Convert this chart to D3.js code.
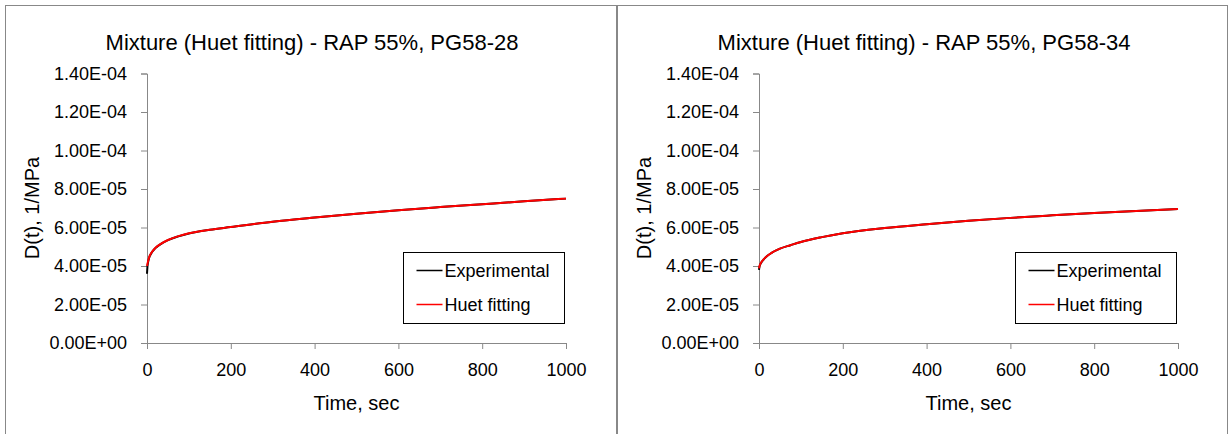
<!DOCTYPE html>
<html>
<head>
<meta charset="utf-8">
<script src="https://cdn.jsdelivr.net/npm/d3@7"></script>
<style>
  body { margin: 0; background: #fff; }
  text { font-family: "Liberation Sans", Arial, sans-serif; fill: #000; }
</style>
</head>
<body>
<div id="chart"></div>
<script>
// creep compliance
var times = [0, 1, 2, 5, 10, 20, 30, 50, 75, 100, 150, 200, 300, 400, 500, 600, 700, 800, 900, 1000];

var exp28 = [3.60e-5, 3.95e-5, 4.12e-5, 4.42e-5, 4.65e-5, 4.93e-5, 5.10e-5, 5.34e-5, 5.54e-5, 5.69e-5,
             5.88e-5, 6.02e-5, 6.30e-5, 6.52e-5, 6.72e-5, 6.90e-5, 7.06e-5, 7.21e-5, 7.36e-5, 7.50e-5];
var huet28 = [4.00e-5, 4.10e-5, 4.20e-5, 4.45e-5, 4.67e-5, 4.94e-5, 5.11e-5, 5.35e-5, 5.55e-5, 5.70e-5,
              5.88e-5, 6.02e-5, 6.30e-5, 6.52e-5, 6.72e-5, 6.90e-5, 7.06e-5, 7.21e-5, 7.36e-5, 7.50e-5];

var exp34 = [3.80e-5, 3.95e-5, 4.03e-5, 4.16e-5, 4.31e-5, 4.53e-5, 4.68e-5, 4.90e-5, 5.08e-5, 5.25e-5,
             5.50e-5, 5.70e-5, 5.97e-5, 6.17e-5, 6.35e-5, 6.50e-5, 6.63e-5, 6.75e-5, 6.86e-5, 6.96e-5];
var huet34 = [3.88e-5, 3.98e-5, 4.05e-5, 4.18e-5, 4.32e-5, 4.53e-5, 4.68e-5, 4.90e-5, 5.08e-5, 5.25e-5,
              5.50e-5, 5.70e-5, 5.97e-5, 6.17e-5, 6.35e-5, 6.50e-5, 6.63e-5, 6.75e-5, 6.86e-5, 6.96e-5];

var xTicks = [0, 200, 400, 600, 800, 1000];
var yTicks = [0, 2e-5, 4e-5, 6e-5, 8e-5, 1e-4, 1.2e-4, 1.4e-4];
var seriesNames = ["Experimental", "Huet fitting"];
var seriesColors = ["#000000", "#ff0000"];

var svg = d3.select("#chart").append("svg")
  .attr("width", 1231)
  .attr("height", 434);

// panel frames
svg.append("rect").attr("x", 5.5).attr("y", 5.5).attr("width", 611).attr("height", 440)
  .attr("fill", "none").attr("stroke", "#888").attr("stroke-width", 1);
svg.append("rect").attr("x", 617.5).attr("y", 5.5).attr("width", 610).attr("height", 440)
  .attr("fill", "none").attr("stroke", "#888").attr("stroke-width", 1);

function drawPanel(offsetX, title, expData, huetData) {
  var g = svg.append("g").attr("transform", "translate(" + offsetX + ",0)");

  var x = d3.scaleLinear().domain([0, 1000]).range([147, 566]);
  var y = d3.scaleLinear().domain([0, 1.4e-4]).range([343, 73.5]);

  g.append("text")
    .attr("x", 312).attr("y", 50)
    .attr("text-anchor", "middle")
    .style("font-size", "22px")
    .text(title);

  var xAxis = g.append("g")
    .attr("transform", "translate(0,343)")
    .call(d3.axisBottom(x).tickValues(xTicks).tickSize(6).tickPadding(14).tickFormat(d3.format("d")));

  var yAxis = g.append("g")
    .attr("transform", "translate(147,0)")
    .call(d3.axisLeft(y).tickValues(yTicks).tickSize(6).tickPadding(14).tickFormat(function (d) {
      return d3.format(".2e")(d).replace("e", "E").replace(/E([+-])(\d)$/, "E$10$2");
    }));

  [xAxis, yAxis].forEach(function (a) {
    a.select(".domain").attr("stroke", "#888");
    a.selectAll(".tick line").attr("stroke", "#888");
    a.selectAll(".tick text").style("font-size", "18px").style("font-family", "Liberation Sans, Arial, sans-serif").attr("fill", "#000");
  });

  g.append("text")
    .attr("x", 356.5).attr("y", 410)
    .attr("text-anchor", "middle")
    .style("font-size", "20px")
    .text("Time, sec");

  g.append("text")
    .attr("transform", "translate(39,208) rotate(-90)")
    .attr("text-anchor", "middle")
    .style("font-size", "20px")
    .text("D(t), 1/MPa");

  var line = d3.line()
    .x(function (d) { return x(d[0]); })
    .y(function (d) { return y(d[1]); })
    .curve(d3.curveMonotoneX);

  [expData, huetData].forEach(function (vals, i) {
    g.append("path")
      .datum(times.map(function (t, k) { return [t, vals[k]]; }))
      .attr("fill", "none")
      .attr("stroke", seriesColors[i])
      .attr("stroke-width", 2)
      .attr("d", line);
  });

  // legend
  var lg = g.append("g").attr("transform", "translate(403.5,252.5)");
  lg.append("rect").attr("width", 161).attr("height", 71)
    .attr("fill", "#fff").attr("stroke", "#000").attr("stroke-width", 1);
  seriesNames.forEach(function (name, i) {
    var cy = 18 + i * 34;
    lg.append("line").attr("x1", 13).attr("x2", 39).attr("y1", cy).attr("y2", cy)
      .attr("stroke", seriesColors[i]).attr("stroke-width", 1.5);
    lg.append("text").attr("x", 41).attr("y", cy + 6.5)
      .style("font-size", "18px")
      .text(name);
  });
}

drawPanel(0, "Mixture (Huet fitting) - RAP 55%, PG58-28", exp28, huet28);
drawPanel(612, "Mixture (Huet fitting) - RAP 55%, PG58-34", exp34, huet34);
</script>
</body>
</html>
